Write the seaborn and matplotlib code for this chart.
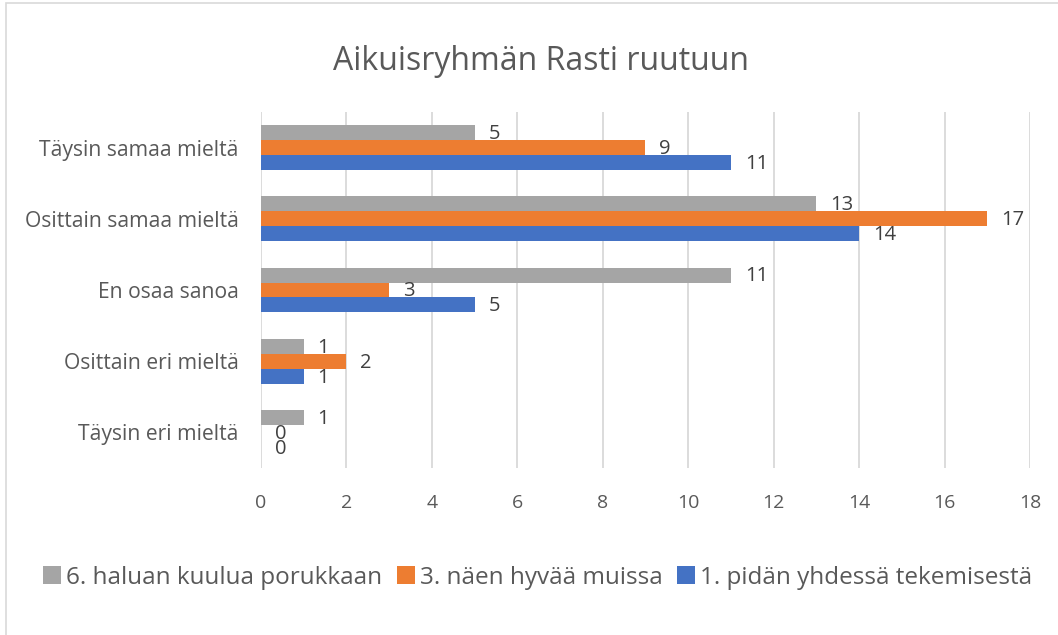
import numpy as np
import pandas as pd
import seaborn as sns
import matplotlib
matplotlib.use("Agg")
import matplotlib.pyplot as plt
from matplotlib.patches import Rectangle

# Data
categories = ['Täysin samaa mieltä', 'Osittain samaa mieltä', 'En osaa sanoa',
              'Osittain eri mieltä', 'Täysin eri mieltä']
series = ['6. haluan kuulua porukkaan', '3. näen hyvää muissa', '1. pidän yhdessä tekemisestä']
vals_6 = [5, 13, 11, 1, 1]
vals_3 = [9, 17, 3, 2, 0]
vals_1 = [11, 14, 5, 1, 0]
xticks = [0, 2, 4, 6, 8, 10, 12, 14, 16, 18]
colors = ['#A5A5A5', '#ED7D31', '#4472C4']

df = pd.DataFrame({
    'cat': categories * 3,
    'series': [series[0]] * 5 + [series[1]] * 5 + [series[2]] * 5,
    'val': vals_6 + vals_3 + vals_1,
})

sns.set_style('white')
plt.rcParams['font.family'] = ['Open Sans', 'DejaVu Sans']
txt = '#595959'

fig = plt.figure(figsize=(10.58, 6.35), dpi=100)
ax = fig.add_axes([0.2467, 0.263, 0.7268, 0.5606])

sns.barplot(data=df, y='cat', x='val', hue='series', order=categories, hue_order=series,
            palette=colors, orient='h', width=0.63, gap=0, ax=ax, saturation=1,
            edgecolor='none', legend=True)

ax.set_xlim(0, 18)
ax.set_ylim(4.5, -0.5)
ax.set_xticks(xticks)
ax.set_xticklabels([str(t) for t in xticks], color=txt, fontsize=14)
ax.tick_params(axis='x', length=0, pad=19)
ax.tick_params(axis='y', length=0, pad=16, labelsize=15.2, labelcolor=txt)
ax.set_xlabel('')
ax.set_ylabel('')
ax.grid(axis='x', color='#d9d9d9', linewidth=1.3)
ax.set_axisbelow(True)
for s in ax.spines.values():
    s.set_visible(False)

# Data labels (the two zeros overlap, as in the original)
for cont in ax.containers:
    for bar in cont:
        w = bar.get_width()
        yc = bar.get_y() + bar.get_height() / 2
        ax.annotate(f'{int(w)}', xy=(w, yc), xytext=(10, -1), textcoords='offset points',
                    ha='left', va='center', fontsize=14.5, color='#404040')

fig.text(0.511, 0.903, 'Aikuisryhmän Rasti ruutuun', fontsize=23, color=txt,
         ha='center', va='center')

handles, labels = ax.get_legend_handles_labels()
ax.legend_.remove()
fig.legend(handles, labels, loc='center', bbox_to_anchor=(0.508, 0.09), ncol=3, frameon=False,
           fontsize=17.5, labelcolor=txt, handlelength=0.75, handleheight=0.75,
           handletextpad=0.2, columnspacing=0.6)

# Chart border
fig.patches.append(Rectangle((0.006, -0.01), 1.1, 1.005, transform=fig.transFigure,
                             fill=False, edgecolor='#d9d9d9', linewidth=1.2))

fig.savefig('out.png', dpi=100)
